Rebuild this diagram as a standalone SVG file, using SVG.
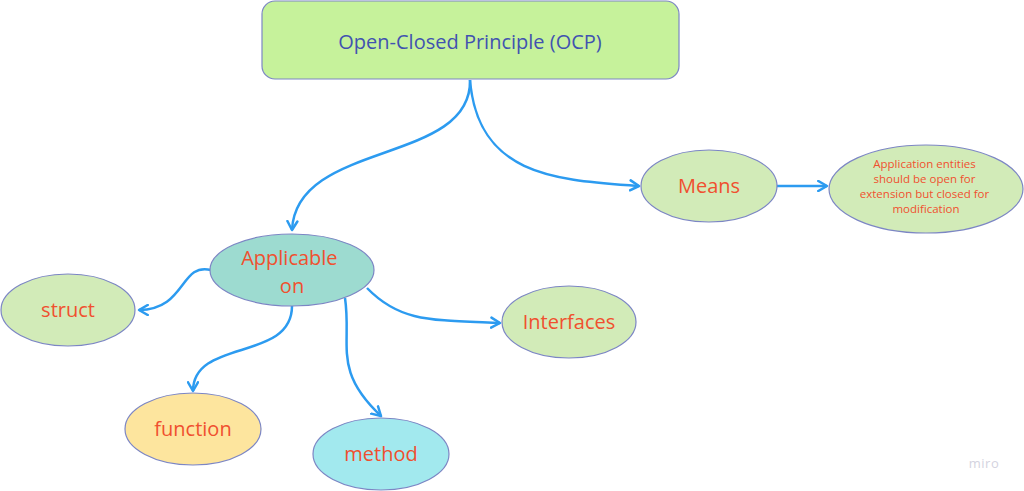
<svg xmlns="http://www.w3.org/2000/svg" width="1024" height="491" viewBox="0 0 1024 491">
<defs>
<style>
.node{stroke:#7c86c4;stroke-width:1.2}
.lbl{font-family:"Open Sans","Liberation Sans",sans-serif;fill:#f0502f;text-anchor:middle}
.edge{fill:none;stroke:#2c9bf0;stroke-width:2.5;marker-end:url(#arr)}
</style>
<marker id="arr" viewBox="0 0 10 10" refX="8" refY="5" markerWidth="5" markerHeight="5" orient="auto" markerUnits="strokeWidth">
<path d="M1,1 L8,5 L1,9" fill="none" stroke="#2c9bf0" stroke-width="2" stroke-linecap="round" stroke-linejoin="round"/>
</marker>
</defs>
<rect width="1024" height="491" fill="#ffffff"/>
<g id="connectors">
<path class="edge" d="M470,80 C472,165 296,140 292,230"/>
<path class="edge" d="M470,80 C478,178 560,180 639,186"/>
<path class="edge" d="M777,186 L827,186"/>
<path class="edge" d="M211,270 C180,262 186,310 139,310"/>
<path class="edge" d="M292,306 C292,362 193,338 193,391"/>
<path class="edge" d="M345,298 C352,345 332,370 381,416"/>
<path class="edge" d="M367,288 C400,322 430,320 500,323"/>
</g>
<g id="ocp">
<rect class="node" x="262" y="1" width="417" height="78" rx="13" fill="#c6f29b"/>
<text x="470" y="49" font-family="'Open Sans','Liberation Sans',sans-serif" font-size="20" fill="#4152b0" text-anchor="middle">Open-Closed Principle (OCP)</text>
</g>
<g id="means">
<ellipse class="node" cx="709" cy="186" rx="68" ry="36" fill="#d2ebb8"/>
<text class="lbl" x="709" y="193" font-size="20">Means</text>
</g>
<g id="definition">
<ellipse class="node" cx="926" cy="189" rx="97" ry="44" fill="#d2ebb8"/>
<text class="lbl" font-size="11.5">
<tspan x="926" y="168">Application entities</tspan>
<tspan x="926" y="183">should be open for</tspan>
<tspan x="926" y="198">extension but closed for</tspan>
<tspan x="926" y="213">modification</tspan>
</text>
</g>
<g id="applicable">
<ellipse class="node" cx="292" cy="270" rx="82" ry="36" fill="#9ddbd0"/>
<text class="lbl" font-size="20">
<tspan x="292" y="265">Applicable</tspan>
<tspan x="292" y="293">on</tspan>
</text>
</g>
<g id="struct">
<ellipse class="node" cx="68" cy="310" rx="67" ry="36" fill="#d2ebb8"/>
<text class="lbl" x="68" y="317" font-size="20">struct</text>
</g>
<g id="interfaces">
<ellipse class="node" cx="569" cy="322" rx="67" ry="36" fill="#d2ebb8"/>
<text class="lbl" x="569" y="329" font-size="20">Interfaces</text>
</g>
<g id="function">
<ellipse class="node" cx="193" cy="429" rx="68" ry="36" fill="#fde59e"/>
<text class="lbl" x="193" y="436" font-size="20">function</text>
</g>
<g id="method">
<ellipse class="node" cx="381" cy="454" rx="68" ry="36" fill="#a2e9ee"/>
<text class="lbl" x="381" y="461" font-size="20">method</text>
</g>
<text x="984" y="468" font-family="'Open Sans','Liberation Sans',sans-serif" font-size="13" fill="#d3d3e0" text-anchor="middle" letter-spacing="0.5">miro</text>
</svg>
